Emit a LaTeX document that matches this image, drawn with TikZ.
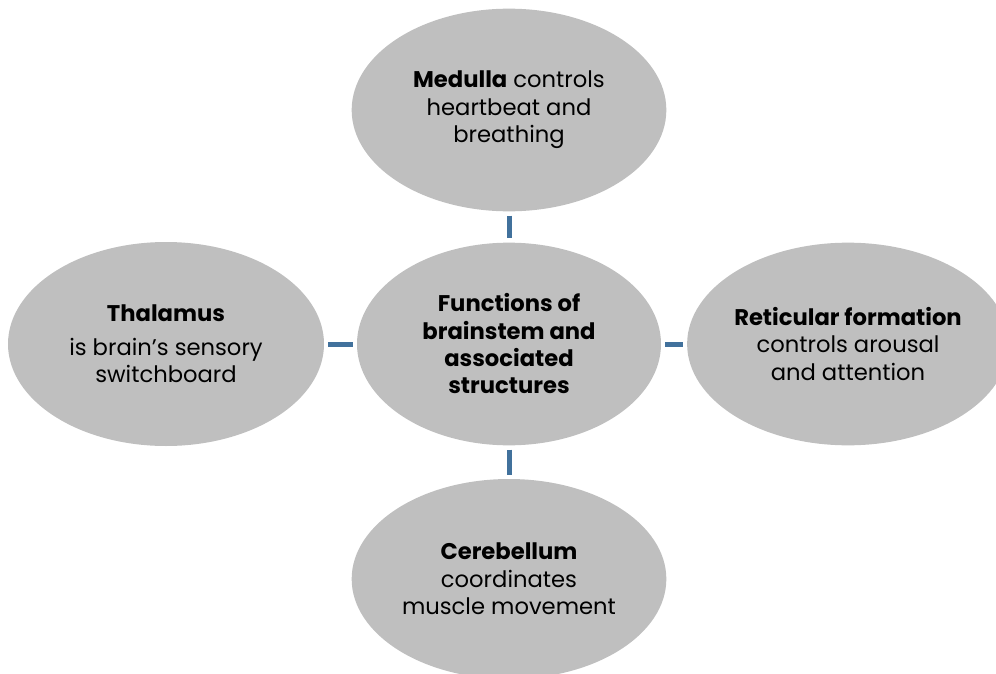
\documentclass[tikz,border=0pt]{standalone}
\usepackage{fontspec}
\setmainfont{Poppins}
\usetikzlibrary{shapes.geometric}
\definecolor{ellfill}{HTML}{BFBFBF}
\definecolor{linkblue}{HTML}{41719C}
\tikzset{
  bubble/.style={ellipse, fill=ellfill, inner sep=0pt, align=center,
    font=\fontsize{17}{20.5}\selectfont, text=black},
  link/.style={draw=linkblue, line width=3.75pt, shorten <=3pt, shorten >=3pt}
}
\begin{document}
\begin{tikzpicture}[x=0.75pt,y=-0.75pt]
\useasboundingbox (0,0) rectangle (996,674);
\node[bubble, minimum width=236pt, minimum height=152pt] (top) at (509,110)
  {\textbf{Medulla} controls\\heartbeat and\\breathing};
\node[bubble, minimum width=228pt, minimum height=152pt] (mid) at (509,344)
  {\textbf{Functions of}\\\textbf{brainstem and}\\\textbf{associated}\\\textbf{structures}};
\node[bubble, minimum width=237pt, minimum height=153pt] (left) at (166,344)
  {\textbf{Thalamus}\\[5pt]is brain’s sensory\\switchboard};
\node[bubble, minimum width=237pt, minimum height=152pt] (right) at (848,344)
  {\textbf{Reticular formation}\\controls arousal\\and attention};
\node[bubble, minimum width=236pt, minimum height=150pt] (bot) at (509,579)
  {\textbf{Cerebellum}\\coordinates\\muscle movement};
\draw[link] (top.south) -- (mid.north);
\draw[link] (mid.south) -- (bot.north);
\draw[link] (left.east) -- (mid.west);
\draw[link] (mid.east) -- (right.west);
\end{tikzpicture}
\end{document}
